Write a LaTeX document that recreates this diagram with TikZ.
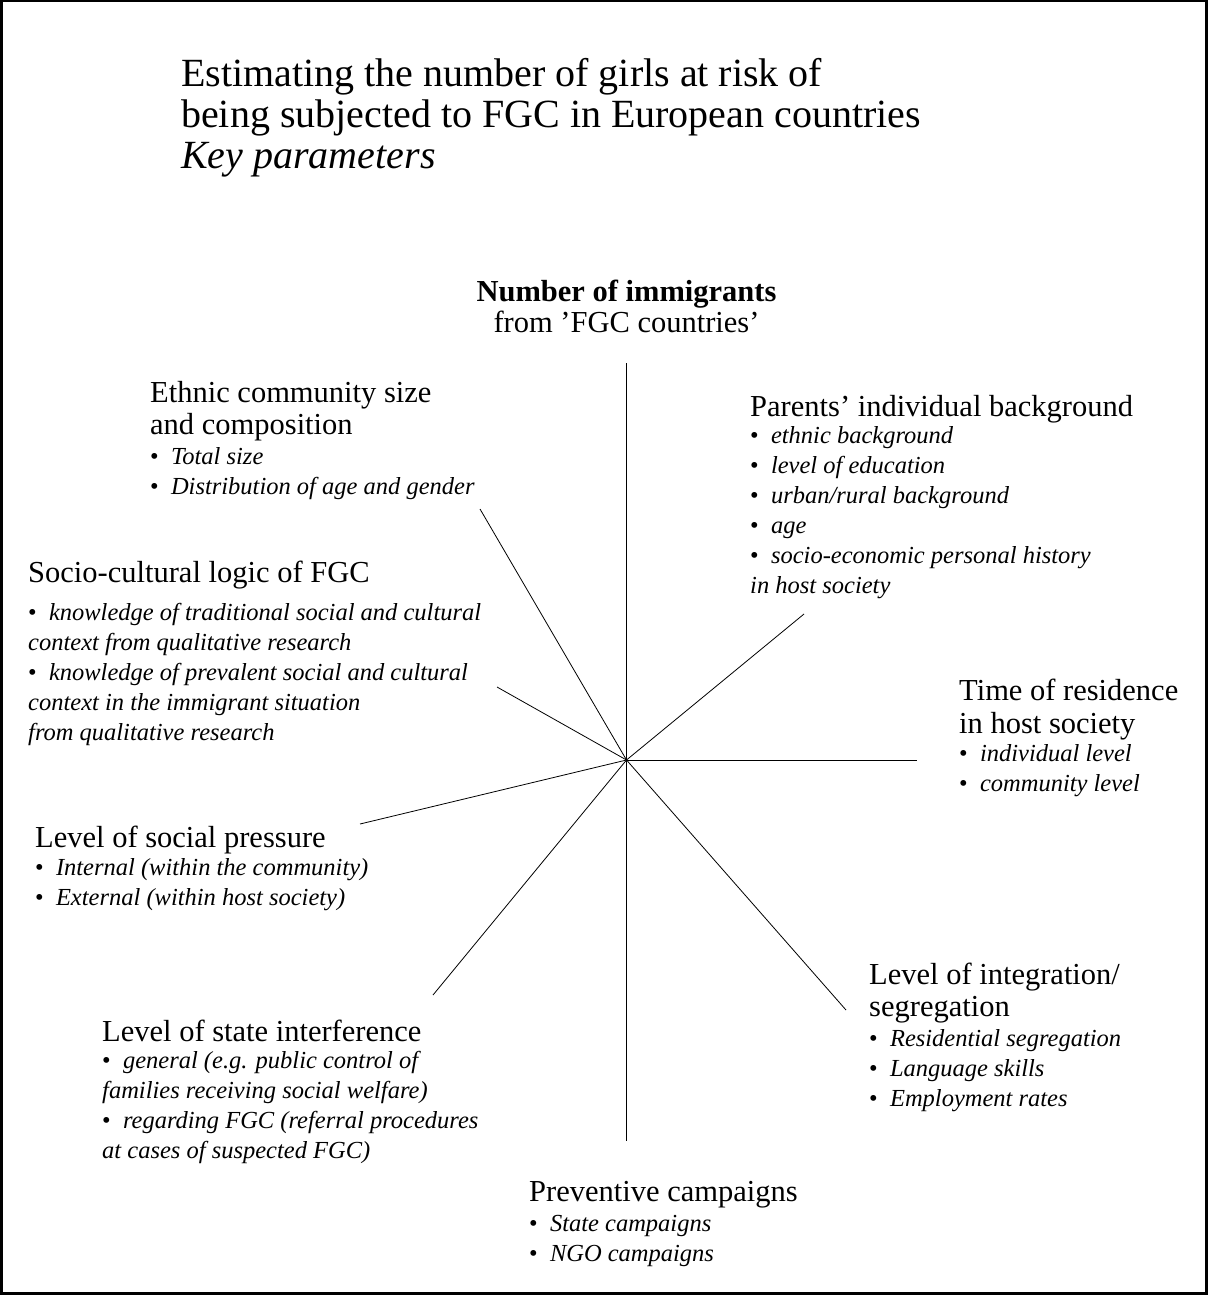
\documentclass[tikz,border=0pt]{standalone}
\usepackage{fontspec}
\setmainfont{Liberation Serif}
\usetikzlibrary{positioning}

\newcommand{\hdfont}{\fontsize{30.5}{32}\selectfont}
\newcommand{\itm}[1]{\textbullet\enspace\textit{#1}}

\begin{document}
\begin{tikzpicture}[x=1pt,y=-1pt,
  lbl/.style={anchor=base west,inner sep=0pt,align=left,font=\fontsize{24.5}{30}\selectfont}]
\useasboundingbox (0,0) rectangle (1208,1295);
\draw[line width=2.5pt] (1.5,1.2) rectangle (1206.5,1293.5);

% title, anchored at the baseline of its last line
\node (title) at (181,168) [anchor=base west,inner sep=0pt,align=left,font=\fontsize{40}{41}\selectfont] {Estimating the number of girls at risk of\\being subjected to FGC in European countries\\\textit{Key parameters}};

\coordinate (hub) at (626.5,760);
\coordinate (c0) at (626.5,363);
\coordinate (c1) at (480,509);
\coordinate (c2) at (497,687);
\coordinate (c3) at (360,824);
\coordinate (c4) at (433,995);
\coordinate (c5) at (626.5,1141);
\coordinate (c6) at (846,1010);
\coordinate (c7) at (917,760);
\coordinate (c8) at (804,614);

\node (l0) at (626.5,332) [anchor=base,inner sep=0pt,align=center,font=\fontsize{30.5}{31}\selectfont] {\textbf{Number of immigrants}\\from ’FGC countries’};
\node (l1) at (150,494) [lbl] {{\hdfont Ethnic community size}\\[2pt]{\hdfont and composition}\\\itm{Total size}\\\itm{Distribution of age and gender}};
\node (l2) at (28,740) [lbl] {{\hdfont Socio-cultural logic of FGC}\\[8pt]\itm{knowledge of traditional social and cultural}\\\textit{context from qualitative research}\\\itm{knowledge of prevalent social and cultural}\\\textit{context in the immigrant situation}\\\textit{from qualitative research}};
\node (l3) at (35,905) [lbl] {{\hdfont Level of social pressure}\\[-2pt]\itm{Internal (within the community)}\\\itm{External (within host society)}};
\node (l4) at (102,1158) [lbl] {{\hdfont Level of state interference}\\[-3pt]\itm{general (e.g. public control of}\\\textit{families receiving social welfare)}\\\itm{regarding FGC (referral procedures}\\\textit{at cases of suspected FGC)}};
\node (l5) at (529,1261) [lbl] {{\hdfont Preventive campaigns}\\\itm{State campaigns}\\\itm{NGO campaigns}};
\node (l6) at (869,1106) [lbl] {{\hdfont Level of integration/}\\[2pt]{\hdfont segregation}\\\itm{Residential segregation}\\\itm{Language skills}\\\itm{Employment rates}};
\node (l7) at (959,791) [lbl] {{\hdfont Time of residence}\\[3pt]{\hdfont in host society}\\[-2pt]\itm{individual level}\\\itm{community level}};
\node (l8) at (750,593) [lbl] {{\hdfont Parents’ individual background}\\[-3pt]\itm{ethnic background}\\\itm{level of education}\\\itm{urban/rural background}\\\itm{age}\\\itm{socio-economic personal history}\\\textit{in host society}};

\foreach \x in {0,1,2,3,4,5,6,7,8} {
\draw[line width=0.8pt] (hub) -- (c\x);
};
\end{tikzpicture}
\end{document}
